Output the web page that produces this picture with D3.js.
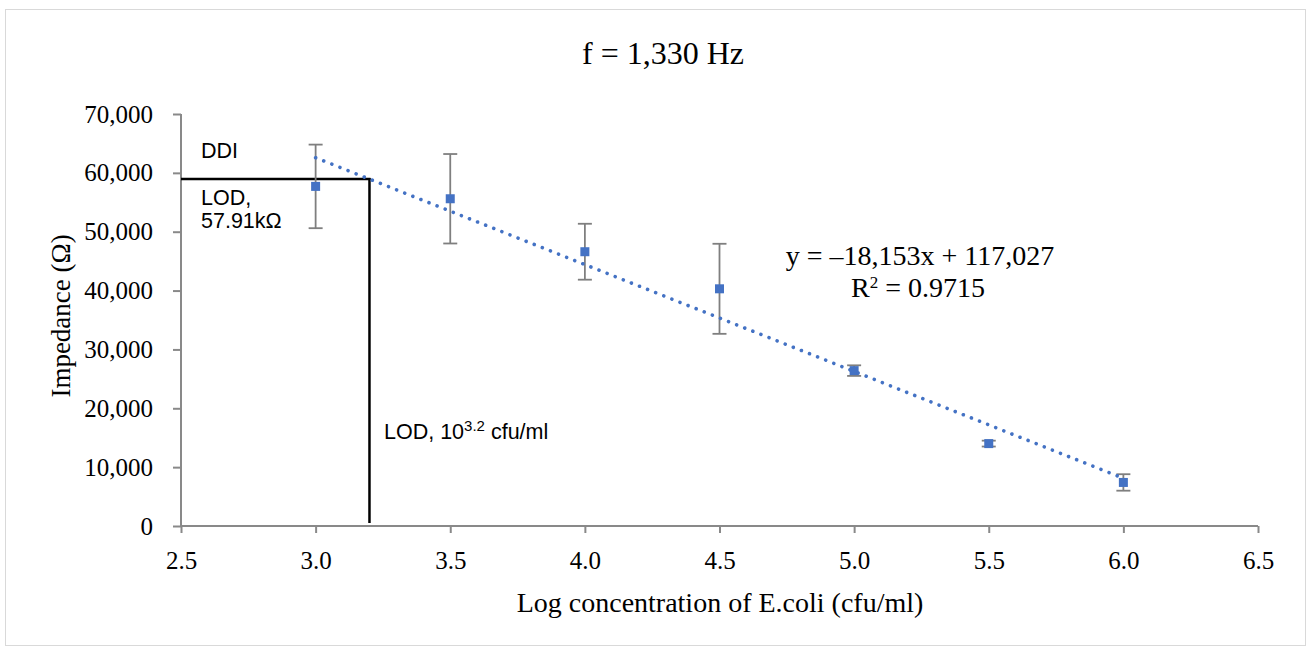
<!DOCTYPE html>
<html><head><meta charset="utf-8">
<script src="https://cdn.jsdelivr.net/npm/d3@7"></script>
<style>
html,body{margin:0;padding:0;background:#fff;}
svg{display:block;}
</style></head>
<body>
<svg id="chart" width="1312" height="650"></svg>
<script>
const logConc = [3.0, 3.5, 4.0, 4.5, 5.0, 5.5, 6.0];
const impedance = [57700, 55600, 46600, 40300, 26400, 14000, 7400];
const errorBars = [7100, 7600, 4750, 7650, 900, 500, 1400];
const xTicks = [2.5, 3.0, 3.5, 4.0, 4.5, 5.0, 5.5, 6.0, 6.5];
const yTicks = [0, 10000, 20000, 30000, 40000, 50000, 60000, 70000];
const slope = -18153, intercept = 117027;
const trendRange = [3.0, 6.0];
const lodX = 3.2;
const lodY = 58940;

const svg = d3.select("#chart");
const x = d3.scaleLinear().domain([2.5, 6.5]).range([181, 1258]);
const y = d3.scaleLinear().domain([0, 70000]).range([526, 114]);
const serif = "'Liberation Serif','Times New Roman',serif";
const sans = "'Liberation Sans',Arial,sans-serif";

// outer border
svg.append("rect").attr("x", 5.5).attr("y", 9.5).attr("width", 1300).attr("height", 636)
  .attr("fill", "none").attr("stroke", "#d9d9d9").attr("stroke-width", 1);

// title
svg.append("text").attr("x", 663).attr("y", 64).attr("text-anchor", "middle")
  .attr("font-family", serif).attr("font-size", 32).attr("fill", "#000")
  .text("f = 1,330 Hz");

const fmt = d3.format(",");
// y axis
const yAxis = svg.append("g").attr("transform", `translate(${x(2.5)},0)`)
  .call(d3.axisLeft(y).tickValues(yTicks).tickFormat(d => d === 0 ? "0" : fmt(d)).tickSize(8).tickPadding(20));
// x axis
const xAxis = svg.append("g").attr("transform", `translate(0,${y(0)})`)
  .call(d3.axisBottom(x).tickValues(xTicks).tickFormat(d3.format(".1f")).tickSize(7).tickPadding(18));
[xAxis, yAxis].forEach(g => {
  g.select(".domain").attr("stroke", "#898989").attr("stroke-width", 2);
  g.selectAll(".tick line").attr("stroke", "#898989").attr("stroke-width", 2);
  g.selectAll(".tick text").attr("font-family", serif).attr("font-size", 25).attr("fill", "#000");
});
xAxis.select(".domain").attr("d", `M${x(2.5)},0H${x(6.5)}`);
yAxis.select(".domain").attr("d", `M0,${y(0)}V${y(70000)}`);

// axis titles
svg.append("text").attr("x", 720).attr("y", 612).attr("text-anchor", "middle")
  .attr("font-family", serif).attr("font-size", 28).text("Log concentration of E.coli (cfu/ml)");
svg.append("text").attr("transform", "translate(70,316) rotate(-90)").attr("text-anchor", "middle")
  .attr("font-family", serif).attr("font-size", 27).text("Impedance (Ω)");

// LOD lines
svg.append("line").attr("x1", x(2.5)).attr("x2", x(lodX) + 1).attr("y1", y(lodY)).attr("y2", y(lodY))
  .attr("stroke", "#000").attr("stroke-width", 2.5);
svg.append("line").attr("x1", x(lodX)).attr("x2", x(lodX)).attr("y1", y(lodY) - 1).attr("y2", y(0) - 3)
  .attr("stroke", "#000").attr("stroke-width", 2.5);

// error bars
const pts = logConc.map((d, i) => ({x: d, y: impedance[i], e: errorBars[i]}));
const eb = svg.append("g").attr("stroke", "#7f7f7f").attr("stroke-width", 1.8);
pts.forEach(p => {
  eb.append("line").attr("x1", x(p.x)).attr("x2", x(p.x)).attr("y1", y(p.y + p.e)).attr("y2", y(p.y - p.e));
  [p.y + p.e, p.y - p.e].forEach(v => eb.append("line").attr("x1", x(p.x) - 7).attr("x2", x(p.x) + 7)
    .attr("y1", y(v)).attr("y2", y(v)));
});

// markers
svg.append("g").selectAll("rect").data(pts).join("rect")
  .attr("x", d => x(d.x) - 4.5).attr("y", d => y(d.y) - 4.5).attr("width", 9).attr("height", 9)
  .attr("fill", "#4472c4");

// trendline
svg.append("line").attr("x1", x(trendRange[0])).attr("y1", y(slope * trendRange[0] + intercept))
  .attr("x2", x(trendRange[1])).attr("y2", y(slope * trendRange[1] + intercept))
  .attr("stroke", "#4472c4").attr("stroke-width", 3.6).attr("stroke-linecap", "round")
  .attr("stroke-dasharray", "0.01 8.7");

// annotations
const ann = svg.append("g").attr("font-family", sans).attr("font-size", 21.5).attr("fill", "#000");
ann.append("text").attr("x", 201).attr("y", 158).text("DDI");
ann.append("text").attr("x", 201).attr("y", 205).text("LOD,");
ann.append("text").attr("x", 201).attr("y", 228).text("57.91kΩ");
const t = ann.append("text").attr("x", 384).attr("y", 439);
t.append("tspan").text("LOD, 10");
t.append("tspan").attr("dy", -8).attr("font-size", 15).text("3.2");
t.append("tspan").attr("dy", 8).text(" cfu/ml");

// equation
const eq = svg.append("g").attr("font-family", serif).attr("font-size", 28).attr("fill", "#000").attr("text-anchor", "middle");
eq.append("text").attr("x", 920).attr("y", 265).text("y = –18,153x + 117,027");
const r2 = eq.append("text").attr("x", 918).attr("y", 297);
r2.append("tspan").text("R");
r2.append("tspan").attr("dy", -9).attr("font-size", 17).text("2");
r2.append("tspan").attr("dy", 9).text(" = 0.9715");
</script>
</body></html>
